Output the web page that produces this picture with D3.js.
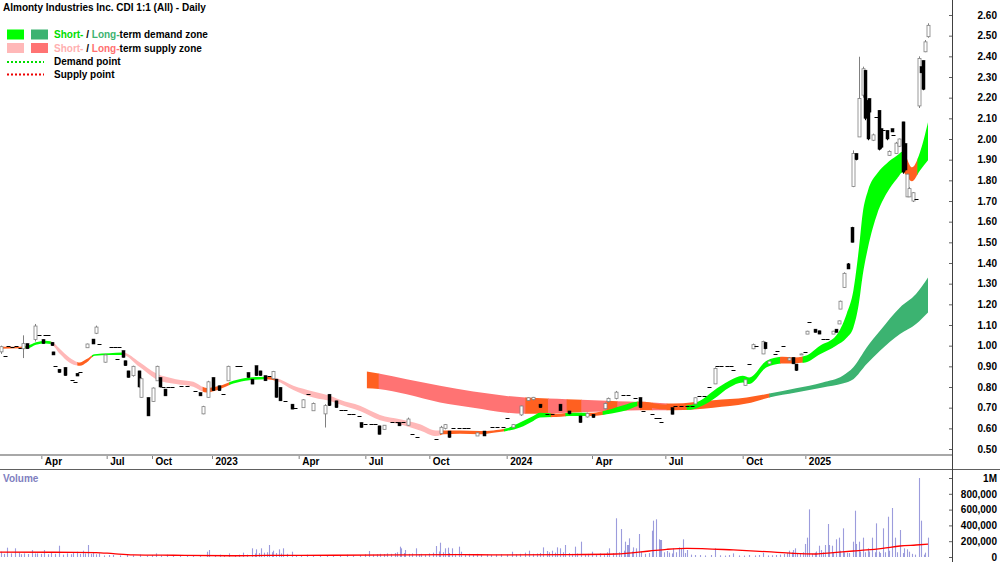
<!doctype html>
<head>
  <meta charset="utf-8">
  <script src="https://cdnjs.cloudflare.com/ajax/libs/d3/7.8.2/d3.min.js"></script>
</head>
<style>
  body { margin: 0; background: #fff; }
  svg { display: block; font-family: "Liberation Sans", Arial, sans-serif; font-weight: bold; font-size: 10px; }
</style>
<body>
<div id="chart"></div>
<script>
// bar number of the first trading day of each labelled month
const monthIdx = [31, 80, 114, 159, 224, 274, 322, 380, 444, 499, 557, 604];
const monthLabels = ["Apr", "Jul", "Oct", "2023", "Apr", "Jul", "Oct", "2024", "Apr", "Jul", "Oct", "2025"];
const priceTicks = [0.5, 0.6, 0.7, 0.8, 0.9, 1.0, 1.1, 1.2, 1.3, 1.4, 1.5, 1.6, 1.7, 1.8, 1.9, 2.0, 2.1, 2.2, 2.3, 2.4, 2.5, 2.6];
const volTicks = [0, 200000, 400000, 600000, 800000, 1000000];

// [bar, open, high, low, close]  ([bar, price] = no range that day)
const candles = [
  [1, 0.97, 1.00, 0.96, 0.995], [4, 0.95], [6, 1.0], [9, 0.995], [12, 1.0], [15, 0.99],
  [17, 0.985, 1.05, 0.94, 1.01], [20, 1.01, 1.01, 0.985, 0.985], [26, 1.03, 1.105, 1.02, 1.095],
  [29, 1.05], [32, 1.03, 1.03, 1.01, 1.01], [34, 1.05], [36, 1.05], [39, 1.016, 1.016, 1.0, 1.0],
  [40, 0.97, 0.97, 0.955, 0.955], [41, 0.90], [44, 0.886, 0.886, 0.87, 0.87], [49, 0.895, 0.895, 0.855, 0.855],
  [54, 0.836], [56, 0.826], [58, 0.866, 0.866, 0.853, 0.853], [60, 0.873], [65, 0.99, 1.01, 0.99, 1.008],
  [70, 1.032, 1.032, 1.008, 1.008], [72, 1.06, 1.097, 1.056, 1.09], [74, 1.008], [79, 0.92, 0.96, 0.918, 0.955],
  [83, 0.992], [86, 0.992], [88, 0.935], [89, 0.992], [92, 0.976, 0.976, 0.943, 0.943],
  [94, 0.927, 0.927, 0.903, 0.903], [96, 0.878, 0.878, 0.846, 0.846], [100, 0.855, 0.903, 0.85, 0.9],
  [104, 0.878, 0.878, 0.798, 0.80], [106, 0.75, 0.846, 0.749, 0.84], [111, 0.749, 0.749, 0.66, 0.66],
  [115, 0.73, 0.798, 0.728, 0.795], [118, 0.83, 0.903, 0.83, 0.9], [120, 0.846, 0.846, 0.798, 0.80],
  [122, 0.80], [124, 0.79, 0.79, 0.757, 0.757], [126, 0.80], [129, 0.80], [136, 0.806], [140, 0.806],
  [146, 0.782], [150, 0.773, 0.773, 0.757, 0.757], [152, 0.67, 0.709, 0.668, 0.705], [156, 0.75, 0.83, 0.749, 0.825],
  [160, 0.846, 0.846, 0.782, 0.782], [164, 0.806, 0.806, 0.782, 0.782], [167, 0.765], [171, 0.83, 0.903, 0.83, 0.9],
  [178, 0.9], [180, 0.9], [186, 0.87, 0.87, 0.846, 0.846], [189, 0.838, 0.838, 0.814, 0.814],
  [192, 0.903, 0.903, 0.855, 0.855], [195, 0.878, 0.878, 0.855, 0.855], [199, 0.855, 0.855, 0.83, 0.83],
  [202, 0.854], [205, 0.84, 0.878, 0.838, 0.875], [207, 0.838, 0.838, 0.749, 0.75], [210, 0.798, 0.798, 0.733, 0.733],
  [214, 0.733], [219, 0.717, 0.717, 0.693, 0.693], [221, 0.70], [227, 0.70, 0.741, 0.70, 0.738], [231, 0.765],
  [235, 0.685, 0.725, 0.685, 0.72], [244, 0.67, 0.717, 0.604, 0.71], [247, 0.765, 0.765, 0.708, 0.71],
  [252, 0.733, 0.733, 0.70, 0.70], [256, 0.689], [259, 0.689], [262, 0.671], [265, 0.671], [269, 0.66],
  [271, 0.628, 0.628, 0.604, 0.604], [274, 0.62], [278, 0.62], [281, 0.62], [284, 0.612, 0.612, 0.571, 0.571],
  [288, 0.595, 0.616, 0.595, 0.615], [294, 0.631], [298, 0.631], [299, 0.628, 0.628, 0.612, 0.612], [302, 0.631],
  [306, 0.615, 0.652, 0.612, 0.645], [309, 0.571], [313, 0.557], [327, 0.547], [331, 0.575, 0.612, 0.571, 0.605],
  [334, 0.6, 0.62, 0.595, 0.618], [337, 0.587, 0.587, 0.555, 0.556], [340, 0.604], [344, 0.604], [348, 0.604],
  [351, 0.604], [358, 0.563, 0.58, 0.563, 0.578], [363, 0.587, 0.587, 0.563, 0.563], [369, 0.607], [373, 0.607],
  [377, 0.607], [380, 0.652], [385, 0.605, 0.62, 0.604, 0.618], [391, 0.665, 0.71, 0.66, 0.708],
  [396, 0.735, 0.75, 0.733, 0.748], [400, 0.74, 0.752, 0.735, 0.75], [405, 0.717, 0.717, 0.70, 0.70],
  [410, 0.668], [414, 0.668], [420, 0.717, 0.717, 0.684, 0.685], [427, 0.684, 0.684, 0.668, 0.67],
  [435, 0.66, 0.66, 0.628, 0.628], [440, 0.655, 0.676, 0.652, 0.672], [445, 0.668, 0.668, 0.652, 0.652],
  [454, 0.695, 0.725, 0.692, 0.72], [456, 0.73, 0.749, 0.725, 0.745], [462, 0.745, 0.781, 0.74, 0.775],
  [467, 0.762], [471, 0.762], [476, 0.749], [480, 0.749, 0.749, 0.70, 0.70], [482, 0.684], [489, 0.668],
  [492, 0.652], [494, 0.652], [496, 0.633], [504, 0.70, 0.70, 0.668, 0.668], [506, 0.708], [511, 0.708],
  [515, 0.708], [519, 0.708], [521, 0.718, 0.75, 0.716, 0.748], [524, 0.757], [528, 0.757], [532, 0.80],
  [536, 0.815, 0.895, 0.814, 0.89], [538, 0.90], [541, 0.90], [545, 0.90], [548, 0.90], [550, 0.882],
  [559, 0.808, 0.838, 0.806, 0.835], [562, 0.911], [565, 0.985, 1.01, 0.983, 1.005], [567, 1.0],
  [572, 0.96, 1.024, 0.959, 1.02], [574, 1.016, 1.016, 0.983, 0.985], [577, 0.912, 0.928, 0.911, 0.925],
  [581, 0.959], [583, 0.975], [587, 1.0], [592, 0.93, 0.945, 0.927, 0.94], [595, 0.943, 0.943, 0.911, 0.912],
  [597, 0.911, 0.911, 0.878, 0.88], [601, 0.955, 0.962, 0.955, 0.96], [604, 0.967], [605, 1.056, 1.072, 1.056, 1.07],
  [607, 1.116], [611, 1.08, 1.08, 1.064, 1.064], [614, 1.072, 1.072, 1.056, 1.056], [617, 1.032], [620, 1.032],
  [625, 1.056, 1.072, 1.056, 1.07], [627, 1.08, 1.08, 1.064, 1.064], [629, 1.105, 1.121, 1.105, 1.12],
  [630, 1.177, 1.218, 1.177, 1.215], [633, 1.282, 1.355, 1.28, 1.35], [636, 1.396, 1.40, 1.371, 1.371],
  [639, 1.573, 1.575, 1.50, 1.50], [640, 1.77, 1.945, 1.767, 1.93], [642, 1.93, 1.93, 1.897, 1.90],
  [644, 2.01, 2.398, 2.01, 2.196], [647, 2.212, 2.35, 2.2, 2.34], [649, 2.333, 2.333, 2.091, 2.10],
  [651, 2.188, 2.188, 1.994, 2.0], [652, 2.196, 2.196, 2.123, 2.13], [655, 1.994, 2.026, 1.99, 2.02],
  [657, 2.107], [659, 2.139, 2.139, 1.945, 1.95], [661, 2.05, 2.05, 1.953, 1.96], [662, 2.042],
  [665, 2.042, 2.042, 1.994, 2.0], [667, 1.921, 1.945, 1.92, 1.94], [669, 2.05, 2.05, 2.034, 2.034], [670, 2.018],
  [672, 1.93, 1.986, 1.929, 1.98], [674, 1.965, 2.002, 1.961, 2.0], [677, 2.083, 2.083, 1.832, 1.84],
  [679, 1.978, 1.978, 1.848, 1.85], [680, 1.72, 1.832, 1.719, 1.83], [682, 1.72, 1.767, 1.719, 1.76],
  [685, 1.70, 1.743, 1.695, 1.74], [687, 1.711], [689, 2.16, 2.40, 2.15, 2.39], [691, 2.35, 2.35, 2.32, 2.32],
  [692, 2.38, 2.38, 2.236, 2.24], [694, 2.422, 2.479, 2.42, 2.47], [696, 2.495, 2.56, 2.49, 2.55]
];

// short-term zone: bar, top price, bottom price
const stIdx = [0, 15, 21, 27, 34, 38, 45, 52, 60, 65, 71, 82, 92, 105, 117, 132, 145, 155, 165, 175, 187, 200, 207, 220, 235, 250, 255, 270, 285, 300, 315, 327, 333, 345, 360, 370, 380, 390, 400, 405, 417, 430, 445, 455, 470, 480, 495, 510, 518, 525, 535, 547, 557, 562, 575, 587, 595, 604, 615, 627, 635, 640, 644, 647, 651, 658, 665, 673, 677, 684, 690, 696];
const stTop = [0.995, 0.995, 1.0, 1.016, 1.024, 1.021, 0.984, 0.943, 0.919, 0.935, 0.959, 0.963, 0.967, 0.919, 0.866, 0.838, 0.825, 0.795, 0.806, 0.83, 0.846, 0.85, 0.843, 0.806, 0.778, 0.752, 0.738, 0.709, 0.665, 0.644, 0.62, 0.59, 0.59, 0.59, 0.587, 0.59, 0.6, 0.628, 0.66, 0.676, 0.671, 0.676, 0.676, 0.688, 0.717, 0.73, 0.717, 0.712, 0.713, 0.733, 0.781, 0.83, 0.854, 0.846, 0.927, 0.946, 0.943, 0.951, 1.0, 1.048, 1.155, 1.266, 1.46, 1.64, 1.751, 1.834, 1.882, 1.921, 1.94, 1.863, 1.936, 2.081];
const stBot = [0.985, 0.987, 0.988, 1.005, 1.011, 1.008, 0.96, 0.919, 0.903, 0.919, 0.951, 0.955, 0.955, 0.895, 0.838, 0.814, 0.801, 0.773, 0.79, 0.817, 0.833, 0.838, 0.83, 0.785, 0.749, 0.728, 0.715, 0.684, 0.639, 0.62, 0.59, 0.563, 0.571, 0.574, 0.571, 0.579, 0.587, 0.604, 0.636, 0.652, 0.655, 0.66, 0.66, 0.668, 0.688, 0.709, 0.692, 0.69, 0.69, 0.704, 0.741, 0.798, 0.822, 0.814, 0.895, 0.914, 0.914, 0.919, 0.959, 1.0, 1.038, 1.087, 1.198, 1.339, 1.475, 1.64, 1.737, 1.81, 1.839, 1.795, 1.848, 1.897];
// where the short-term zone changes: d = demand, s = supply, t = turning
const stZones = [[0, "t"], [19, "d"], [38, "s"], [58, "t"], [69, "d"], [92, "s"], [152, "t"], [172, "d"], [198, "t"], [206, "s"], [330, "t"], [378, "d"], [413, "t"], [424, "d"], [440, "t"], [452, "d"], [478, "t"], [515, "d"], [585, "t"], [602, "d"], [677, "t"], [688, "d"]];

// long-term zone
const ltIdx = [275, 284, 305, 330, 355, 380, 394, 411, 425, 455, 480, 505, 535, 560, 577, 597, 617, 632, 640, 650, 660, 675, 687, 696];
const ltTop = [0.875, 0.865, 0.838, 0.806, 0.778, 0.757, 0.749, 0.744, 0.741, 0.733, 0.728, 0.72, 0.736, 0.749, 0.768, 0.794, 0.822, 0.854, 0.895, 0.991, 1.072, 1.185, 1.25, 1.33];
const ltBot = [0.794, 0.79, 0.765, 0.725, 0.70, 0.676, 0.671, 0.671, 0.676, 0.681, 0.688, 0.688, 0.70, 0.72, 0.749, 0.773, 0.798, 0.817, 0.838, 0.911, 0.975, 1.056, 1.105, 1.161];
const ltZones = [[275, "t"], [284, "s"], [394, "t"], [411, "s"], [425, "t"], [436, "s"], [455, "t"], [463, "s"], [480, "t"], [489, "s"], [500, "t"], [577, "d"]];

// [bar, volume]
const volume = [
  [1, 67000], [3, 40000], [5, 118000], [8, 46000], [11, 110000], [14, 55000], [16, 35000], [18, 46000], [21, 38000], [24, 89000],
  [26, 45000], [28, 46000], [31, 40000], [33, 89000], [36, 35000], [38, 55000], [41, 40000], [44, 143000], [47, 30000], [50, 46000],
  [53, 35000], [55, 55000], [58, 67000], [60, 40000], [62, 80000], [64, 45000], [66, 152000], [68, 40000], [70, 55000], [72, 35000],
  [74, 46000], [78, 20000], [82, 25000], [85, 25000], [90, 20000], [95, 35000], [100, 22000], [105, 30000], [110, 18000], [114, 25000],
  [117, 46000], [121, 20000], [125, 30000], [130, 18000], [135, 22000], [140, 25000], [145, 20000], [150, 18000], [155, 67000], [157, 89000],
  [161, 25000], [165, 30000], [168, 20000], [172, 46000], [176, 22000], [179, 30000], [182, 55000], [185, 30000], [189, 110000], [191, 45000],
  [192, 97000], [194, 50000], [196, 110000], [198, 55000], [200, 60000], [202, 152000], [204, 60000], [205, 80000], [207, 50000], [209, 97000],
  [211, 45000], [212, 110000], [215, 40000], [219, 67000], [222, 25000], [226, 20000], [230, 30000], [235, 22000], [240, 18000], [245, 25000],
  [250, 20000], [255, 22000], [260, 30000], [265, 20000], [270, 25000], [274, 35000], [277, 76000], [280, 30000], [283, 35000], [285, 40000],
  [288, 38000], [290, 46000], [293, 40000], [296, 50000], [298, 60000], [300, 131000], [301, 110000], [303, 50000], [304, 89000], [307, 40000],
  [309, 45000], [312, 110000], [314, 35000], [316, 40000], [319, 30000], [322, 45000], [325, 55000], [327, 139000], [329, 70000], [330, 181000],
  [332, 60000], [334, 110000], [336, 118000], [337, 50000], [339, 110000], [341, 40000], [344, 131000], [346, 67000], [349, 30000], [352, 40000],
  [355, 25000], [358, 40000], [361, 30000], [365, 35000], [368, 25000], [372, 30000], [376, 35000], [380, 30000], [384, 67000], [387, 35000],
  [390, 40000], [394, 55000], [397, 80000], [400, 40000], [403, 45000], [405, 50000], [407, 122000], [410, 76000], [412, 60000], [414, 80000],
  [416, 55000], [418, 122000], [420, 110000], [422, 60000], [424, 152000], [427, 50000], [429, 40000], [431, 131000], [433, 45000], [436, 194000],
  [439, 35000], [441, 40000], [444, 67000], [447, 30000], [450, 46000], [453, 40000], [455, 60000], [457, 110000], [460, 50000], [462, 490000],
  [464, 60000], [466, 354000], [468, 80000], [469, 194000], [470, 152000], [471, 152000], [472, 236000], [474, 70000], [475, 122000], [477, 110000],
  [479, 291000], [481, 67000], [484, 40000], [487, 50000], [489, 333000], [490, 460000], [492, 477000], [494, 224000], [495, 215000], [496, 215000],
  [498, 60000], [500, 76000], [502, 55000], [504, 45000], [505, 110000], [507, 60000], [509, 122000], [511, 110000], [512, 224000], [514, 50000],
  [515, 89000], [518, 30000], [521, 25000], [525, 25000], [529, 20000], [533, 25000], [536, 110000], [540, 22000], [544, 18000], [547, 25000],
  [550, 46000], [554, 20000], [558, 18000], [562, 25000], [566, 20000], [569, 25000], [572, 55000], [576, 20000], [579, 22000], [582, 25000],
  [585, 30000], [588, 40000], [590, 50000], [592, 80000], [594, 60000], [595, 89000], [596, 110000], [598, 40000], [600, 46000], [602, 60000],
  [604, 165000], [605, 245000], [607, 603000], [609, 40000], [611, 55000], [612, 70000], [614, 143000], [616, 89000], [617, 60000], [619, 152000],
  [621, 418000], [622, 152000], [624, 143000], [625, 60000], [627, 224000], [629, 245000], [630, 80000], [632, 363000], [633, 60000], [635, 55000],
  [637, 50000], [640, 194000], [641, 586000], [642, 165000], [644, 194000], [645, 70000], [647, 245000], [649, 60000], [651, 110000], [652, 70000],
  [654, 245000], [656, 60000], [657, 426000], [659, 67000], [660, 50000], [662, 363000], [664, 60000], [666, 510000], [667, 80000], [669, 620000],
  [671, 245000], [673, 60000], [675, 342000], [677, 50000], [678, 110000], [680, 97000], [682, 67000], [684, 40000], [686, 30000], [689, 1000000],
  [691, 460000], [693, 30000], [694, 55000], [696, 245000]
];
// volume moving average
const volAvg = [[0, 62000], [40, 60000], [72, 56000], [85, 42000], [100, 28000], [130, 22000], [175, 16000], [200, 20000], [250, 22000], [300, 27000], [340, 30000], [375, 27000], [425, 30000], [462, 38000], [487, 76000], [500, 97000], [515, 110000], [550, 89000], [575, 67000], [595, 46000], [612, 38000], [625, 55000], [640, 76000], [650, 89000], [662, 110000], [675, 139000], [687, 152000], [696, 162000]];

const W = 1000, H = 562;
const axisX = 952;
const colours = {
  st: { d: "#00ff00", s: "#ffb8b8", t: "#ff6020" },
  lt: { d: "#3cb371", s: "#ff7373", t: "#ff6020" }
};

const svg = d3.select("#chart").append("svg").attr("width", W).attr("height", H);
const defs = svg.append("defs");

const x = d3.scaleLinear().domain([0, 705]).range([0, 940]);
const y = d3.scaleLinear().domain([0.5, 2.6]).range([449, 15]);
const yv = d3.scaleLinear().domain([0, 1000000]).range([557, 478]);

// zones, coloured by clipping one smooth band into stretches
let clipN = 0;
function drawBand(idx, top, bot, zones, pal) {
  const pts = idx.map((d, i) => ({ i: d, t: top[i], b: bot[i] }));
  const area = d3.area()
    .x(d => x(d.i)).y0(d => y(d.b)).y1(d => y(d.t))
    .curve(d3.curveMonotoneX);
  zones.forEach((z, k) => {
    const x0 = x(z[0]);
    const x1 = k < zones.length - 1 ? x(zones[k + 1][0]) : x(idx[idx.length - 1]);
    const id = "clip" + (clipN++);
    defs.append("clipPath").attr("id", id)
      .append("rect").attr("x", x0).attr("y", 0).attr("width", x1 - x0 + 0.6).attr("height", 455);
    svg.append("path").datum(pts)
      .attr("d", area)
      .attr("fill", pal[z[1]])
      .attr("clip-path", `url(#${id})`);
  });
}
drawBand(ltIdx, ltTop, ltBot, ltZones, colours.lt);
drawBand(stIdx, stTop, stBot, stZones, colours.st);

// candles
const bars = candles.map(c => c.length === 2
  ? { i: c[0], o: c[1], h: c[1], l: c[1], c: c[1] }
  : { i: c[0], o: c[1], h: c[2], l: c[3], c: c[4] });
const cg = svg.append("g");
bars.forEach(b => {
  const cx = Math.round(x(b.i)) + 0.5;
  if (b.h === b.l) {
    cg.append("line").attr("x1", cx - 2).attr("x2", cx + 2)
      .attr("y1", Math.round(y(b.c)) + 0.5).attr("y2", Math.round(y(b.c)) + 0.5)
      .attr("stroke", "#000").attr("stroke-width", 1);
    return;
  }
  const up = b.c >= b.o;
  const col = up ? "#808080" : "#000";
  cg.append("line").attr("x1", cx).attr("x2", cx)
    .attr("y1", y(b.h)).attr("y2", y(b.l))
    .attr("stroke", col).attr("stroke-width", 1);
  const yt = y(Math.max(b.o, b.c)), yb = y(Math.min(b.o, b.c));
  cg.append("rect").attr("x", cx - 1.5).attr("width", 3)
    .attr("y", yt).attr("height", Math.max(1, yb - yt))
    .attr("fill", up ? "#fff" : "#000")
    .attr("stroke", col).attr("stroke-width", up ? 0.8 : 0.5);
});

// volume
svg.append("g").selectAll("line").data(volume).join("line")
  .attr("x1", d => Math.round(x(d[0])) + 0.5).attr("x2", d => Math.round(x(d[0])) + 0.5)
  .attr("y1", yv(0)).attr("y2", d => yv(d[1]))
  .attr("stroke", "#9c9cdc").attr("stroke-width", 1.1);
svg.append("path").datum(volAvg)
  .attr("d", d3.line().x(d => x(d[0])).y(d => yv(d[1])).curve(d3.curveMonotoneX))
  .attr("fill", "none").attr("stroke", "#ff0000").attr("stroke-width", 1.3);

// frame lines
svg.append("line").attr("x1", 0).attr("x2", axisX).attr("y1", 455).attr("y2", 455)
  .attr("stroke", "#a8a8a8").attr("stroke-width", 2);
svg.append("line").attr("x1", 0).attr("x2", W).attr("y1", 469.5).attr("y2", 469.5)
  .attr("stroke", "#606060").attr("stroke-width", 1);
svg.append("line").attr("x1", axisX + 0.5).attr("x2", axisX + 0.5).attr("y1", 0).attr("y2", H)
  .attr("stroke", "#404040").attr("stroke-width", 1);

// month axis
const xAxis = svg.append("g").attr("transform", "translate(0,456)")
  .call(d3.axisBottom(x).tickValues(monthIdx).tickFormat((d, i) => monthLabels[i]).tickSize(3));
xAxis.select(".domain").remove();
xAxis.selectAll(".tick line").attr("stroke", "#808080");
xAxis.selectAll(".tick text").attr("text-anchor", "start").attr("x", 3).attr("y", 2).attr("dy", "0.71em")
  .attr("fill", "#000").style("font-size", "10px").style("font-weight", "bold").style("font-family", "Liberation Sans, Arial, sans-serif");

// price axis
const yAxis = svg.append("g").attr("transform", `translate(${axisX},0)`)
  .call(d3.axisLeft(y).tickValues(priceTicks).tickFormat(d3.format(".2f")).tickSize(3));
yAxis.select(".domain").remove();
yAxis.selectAll(".tick line").attr("stroke", "#606060");
yAxis.selectAll(".tick text").attr("x", 45).attr("text-anchor", "end")
  .attr("fill", "#000").style("font-size", "10px").style("font-weight", "bold").style("font-family", "Liberation Sans, Arial, sans-serif");

// volume axis
const vAxis = svg.append("g").attr("transform", `translate(${axisX},0)`)
  .call(d3.axisLeft(yv).tickValues(volTicks).tickFormat(d => d === 1000000 ? "1M" : d3.format(",")(d)).tickSize(3));
vAxis.select(".domain").remove();
vAxis.selectAll(".tick line").attr("stroke", "#606060");
vAxis.selectAll(".tick text").attr("x", 45).attr("text-anchor", "end")
  .attr("fill", "#000").style("font-size", "10px").style("font-weight", "bold").style("font-family", "Liberation Sans, Arial, sans-serif");

svg.append("text").attr("x", 3).attr("y", 481.5).attr("fill", "#8080c0").text("Volume");

// title and legend
svg.append("text").attr("x", 3).attr("y", 10.5).attr("fill", "#000").text("Almonty Industries Inc. CDI 1:1 (All) - Daily");

const legend = svg.append("g");
legend.append("rect").attr("x", 7).attr("y", 29.5).attr("width", 17).attr("height", 10).attr("fill", colours.st.d);
legend.append("rect").attr("x", 31).attr("y", 29.5).attr("width", 17).attr("height", 10).attr("fill", colours.lt.d);
legend.append("rect").attr("x", 7).attr("y", 43).attr("width", 17).attr("height", 10).attr("fill", colours.st.s);
legend.append("rect").attr("x", 31).attr("y", 43).attr("width", 17).attr("height", 10).attr("fill", colours.lt.s);
legend.append("line").attr("x1", 7).attr("x2", 44).attr("y1", 62).attr("y2", 62)
  .attr("stroke", "#00dd00").attr("stroke-width", 2).attr("stroke-dasharray", "2,2");
legend.append("line").attr("x1", 7).attr("x2", 44).attr("y1", 74.5).attr("y2", 74.5)
  .attr("stroke", "#ee0000").attr("stroke-width", 2).attr("stroke-dasharray", "2,2");

const t1 = legend.append("text").attr("x", 54).attr("y", 38);
t1.append("tspan").attr("fill", "#00dd00").text("Short-");
t1.append("tspan").attr("fill", "#000").text(" / ");
t1.append("tspan").attr("fill", "#3cb371").text("Long-");
t1.append("tspan").attr("fill", "#000").text("term demand zone");
const t2 = legend.append("text").attr("x", 54).attr("y", 51.5);
t2.append("tspan").attr("fill", "#ffb0b0").text("Short-");
t2.append("tspan").attr("fill", "#000").text(" / ");
t2.append("tspan").attr("fill", "#ff6f6f").text("Long-");
t2.append("tspan").attr("fill", "#000").text("term supply zone");
legend.append("text").attr("x", 54).attr("y", 65).text("Demand point");
legend.append("text").attr("x", 54).attr("y", 78).text("Supply point");
</script>
</body>
